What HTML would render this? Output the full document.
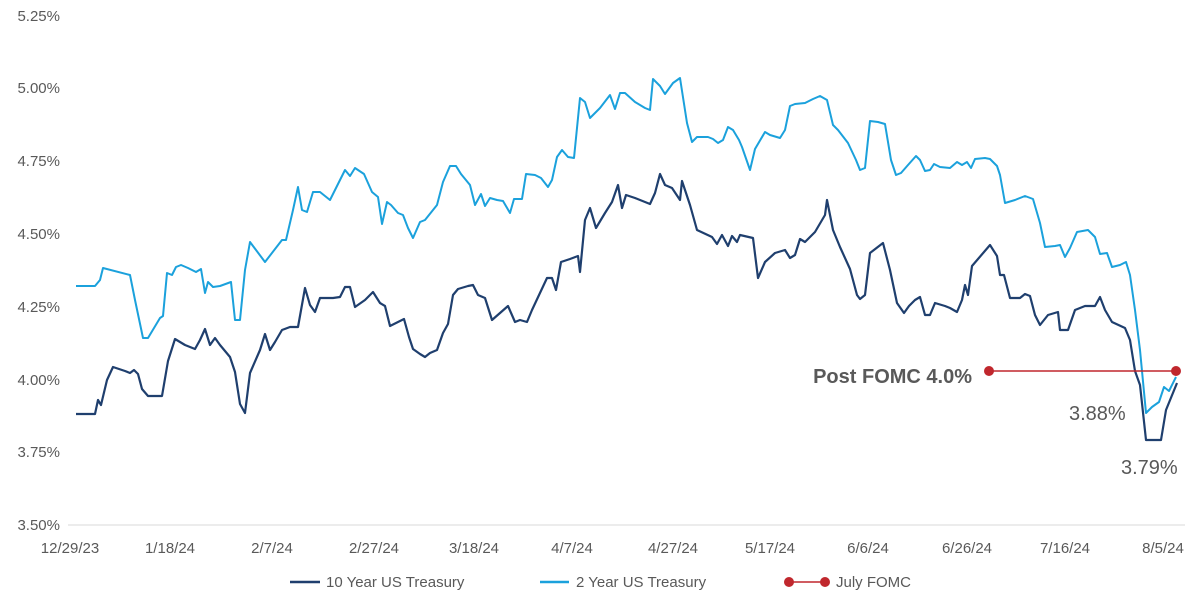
<!DOCTYPE html>
<html><head><meta charset="utf-8"><style>
body{margin:0;background:#fff;}
svg text{font-family:"Liberation Sans",sans-serif;fill:#595959;}
</style></head><body>
<svg width="1200" height="600" xmlns="http://www.w3.org/2000/svg">
<g font-size="15" text-anchor="end">
<text x="60" y="21">5.25%</text><text x="60" y="93">5.00%</text><text x="60" y="166">4.75%</text><text x="60" y="239">4.50%</text><text x="60" y="312">4.25%</text><text x="60" y="385">4.00%</text><text x="60" y="457">3.75%</text><text x="60" y="530">3.50%</text>
</g>
<line x1="68" y1="525" x2="1185" y2="525" stroke="#d9d9d9" stroke-width="1"/>
<g font-size="15" text-anchor="middle">
<text x="70" y="553">12/29/23</text><text x="170" y="553">1/18/24</text><text x="272" y="553">2/7/24</text><text x="374" y="553">2/27/24</text><text x="474" y="553">3/18/24</text><text x="572" y="553">4/7/24</text><text x="673" y="553">4/27/24</text><text x="770" y="553">5/17/24</text><text x="868" y="553">6/6/24</text><text x="967" y="553">6/26/24</text><text x="1065" y="553">7/16/24</text><text x="1163" y="553">8/5/24</text>
</g>
<polyline fill="none" stroke="#1ba1dc" stroke-width="2" stroke-linejoin="round" points="76,286 95,286 100,280 103,268 130,275 135,300 143,338 148,338 160,318 163,316 167,273 172,275 176,267 181,265 188,268 196,272 201,269 205,293 208,282 213,287 220,286 231,282 235,320 240,320 245,270 250,242 265,262 282,240 286,240 293,210 298,187 302,210 307,212 313,192 320,192 330,200 340,180 345,170 350,176 355,168 364,174 372,192 378,197 382,224 387,202 391,205 398,213 403,215 408,228 413,238 420,222 425,220 437,205 443,182 450,166 456,166 461,174 470,185 475,205 481,194 485,206 490,198 497,200 503,201 510,213 514,199 522,199 526,174 535,175 541,178 548,187 552,180 557,157 562,150 568,157 574,158 580,98 585,102 590,118 600,108 610,95 615,109 620,93 625,93 635,102 645,108 650,110 653,79 660,86 665,94 673,83 680,78 687,123 692,142 697,137 708,137 713,139 718,143 723,140 728,127 733,130 739,140 742,147 750,170 755,149 765,132 770,135 780,138 785,130 790,106 795,104 805,103 813,99 820,96 827,100 833,125 838,130 848,143 856,160 860,170 865,168 870,121 878,122 885,124 891,160 896,175 901,173 908,165 916,156 920,160 925,171 930,170 934,164 940,167 950,168 957,162 962,165 967,162 971,168 975,159 985,158 990,159 997,166 1000,175 1005,203 1015,200 1025,196 1033,199 1040,223 1045,247 1055,246 1060,245 1065,257 1070,248 1077,232 1088,230 1095,237 1100,254 1107,253 1112,267 1120,265 1126,262 1130,275 1135,310 1140,350 1146,413 1152,407 1159,402 1164,387 1169,391 1176,377"/>
<polyline fill="none" stroke="#1f3f6e" stroke-width="2.2" stroke-linejoin="round" points="76,414 95,414 98,400 101,405 107,380 113,367 125,371 130,373 134,370 138,374 142,389 148,396 162,396 168,361 175,339 185,345 195,349 200,340 205,329 210,345 215,338 220,345 230,357 235,372 240,404 245,413 250,373 260,350 265,334 270,350 275,342 282,330 290,327 298,327 305,288 310,305 315,312 320,298 333,298 340,297 345,287 350,287 355,307 365,300 373,292 380,303 385,306 390,326 398,322 404,319 409,337 413,349 420,354 425,357 430,353 437,350 443,333 448,324 453,295 458,289 468,286 473,285 478,295 485,298 492,320 500,313 508,306 515,322 520,320 527,322 532,310 547,278 552,278 556,290 561,262 570,259 578,256 580,272 585,220 590,208 596,228 605,213 612,202 618,185 622,208 626,195 635,198 650,204 655,193 660,174 665,185 672,188 680,200 682,181 690,205 697,230 712,237 717,244 722,235 728,246 732,236 737,242 740,235 753,238 758,278 765,262 775,253 785,250 790,258 795,255 800,239 805,242 815,232 825,215 827,200 833,230 840,247 850,269 857,295 860,299 865,295 870,253 883,243 890,270 897,303 904,313 909,306 915,300 920,297 925,315 930,315 935,303 945,306 950,308 957,312 962,300 965,285 968,295 972,266 990,245 997,256 1000,275 1004,275 1010,298 1020,298 1025,294 1030,296 1035,315 1040,325 1048,315 1058,312 1060,330 1068,330 1075,310 1085,306 1095,306 1100,297 1105,310 1112,322 1125,328 1130,340 1135,371 1140,385 1146,440 1161,440 1166,410 1177,383"/>
<line x1="989" y1="371" x2="1176" y2="371" stroke="#c0272d" stroke-width="1.5"/>
<circle cx="989" cy="371" r="5" fill="#c0272d"/><circle cx="1176" cy="371" r="5" fill="#c0272d"/>
<text x="972" y="383" font-size="20" font-weight="bold" text-anchor="end">Post FOMC 4.0%</text>
<text x="1069" y="420" font-size="20">3.88%</text>
<text x="1121" y="474" font-size="20">3.79%</text>
<g font-size="15">
<line x1="290" y1="582" x2="320" y2="582" stroke="#1f3f6e" stroke-width="2.5"/><text x="326" y="587">10 Year US Treasury</text>
<line x1="540" y1="582" x2="569" y2="582" stroke="#1ba1dc" stroke-width="2.5"/><text x="576" y="587">2 Year US Treasury</text>
<line x1="789" y1="582" x2="825" y2="582" stroke="#c0272d" stroke-width="1.5"/><circle cx="789" cy="582" r="5" fill="#c0272d"/><circle cx="825" cy="582" r="5" fill="#c0272d"/><text x="836" y="587">July FOMC</text>
</g>
</svg>
</body></html>
